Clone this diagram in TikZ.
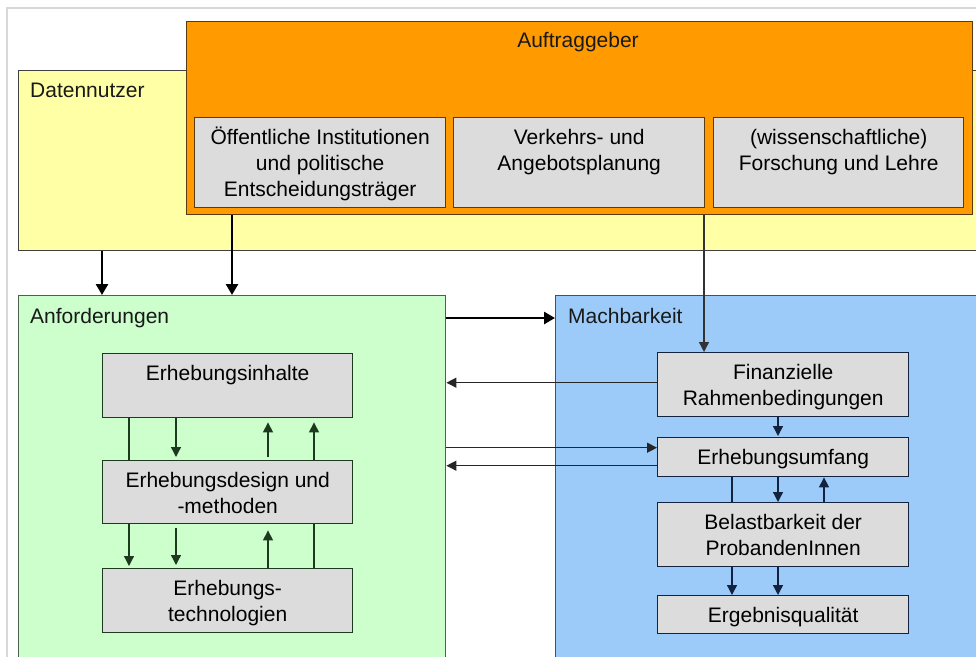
\documentclass[tikz,border=0pt]{standalone}
\usepackage{fontspec}
\setmainfont{Liberation Sans}
\usetikzlibrary{arrows.meta}
\definecolor{yel}{HTML}{FFFFA6}
\definecolor{ora}{HTML}{FF9A00}
\definecolor{grn}{HTML}{CCFFCC}
\definecolor{blu}{HTML}{9CCBFA}
\definecolor{gry}{HTML}{DCDCDC}
\definecolor{gline}{HTML}{1E3A1E}
\definecolor{bline}{HTML}{13233F}
\definecolor{oline}{HTML}{5A3A10}
\definecolor{frame}{HTML}{D8D8D8}
\newcommand{\bxtext}[3]{\parbox[c][#2pt][t]{#1pt}{\centering\rule{0pt}{26.5pt}#3}}
\tikzset{
  bigbox/.style={draw=#1, line width=1.4pt, inner sep=0pt, anchor=north west},
  inbox/.style={draw=#1, fill=gry, line width=1.4pt, inner sep=0pt, anchor=north west},
  titletext/.style={inner sep=0pt, text=black!90},
  thickarrow/.style={line width=2.6pt, -{Triangle[length=11pt,width=12pt]}},
  thinarrow/.style={line width=1.3pt, -{Triangle[length=10pt,width=10pt]}},
  thinline/.style={line width=1.3pt}
}
\begin{document}
\begin{tikzpicture}[x=1pt,y=-1pt, font=\fontsize{21}{26}\selectfont]
\useasboundingbox (0,0) rectangle (976,656);
\clip (0,0) rectangle (976,656);
\fill[white] (0,0) rectangle (976,656);
% screenshot frame
\draw[frame, line width=1.2pt] (7,660) -- (7,8) -- (980,8);

% Datennutzer
\node[bigbox=black!75, fill=yel, minimum width=962pt, minimum height=180pt] (dn) at (18,70) {};
\node[titletext, anchor=base west] (dnt) at (30,97) {Datennutzer};

% Auftraggeber
\node[bigbox=oline, fill=ora, minimum width=786pt, minimum height=193pt] (ag) at (186,21) {};
\node[titletext, anchor=base] (agt) at (578,47) {Auftraggeber};
\node[inbox=oline] (oi) at (194,117) {\bxtext{251}{90}{Öffentliche Institutionen\\und politische\\Entscheidungsträger}};
\node[inbox=oline] (vp) at (453,117) {\bxtext{251}{90}{Verkehrs- und\\Angebotsplanung}};
\node[inbox=oline] (fl) at (713,117) {\bxtext{250}{90}{(wissenschaftliche)\\Forschung und Lehre}};

% Anforderungen
\node[bigbox=gline!80, fill=grn, minimum width=427pt, minimum height=370pt] (anf) at (18,295) {};
\node[titletext, anchor=base west] (anft) at (30,323) {Anforderungen};
\node[inbox=gline] (inh) at (102,353) {\bxtext{250}{64}{Erhebungsinhalte}};
\node[inbox=gline] (des) at (102,460) {\bxtext{250}{63}{Erhebungsdesign und\\-methoden}};
\node[inbox=gline] (tec) at (102,568) {\bxtext{250}{64}{Erhebungs-\\technologien}};

% Machbarkeit
\node[bigbox=bline!80, fill=blu, minimum width=430pt, minimum height=370pt] (mb) at (555,295) {};
\node[titletext, anchor=base west] (mbt) at (568,323) {Machbarkeit};
\node[inbox=bline] (fin) at (657,352) {\bxtext{251}{64}{Finanzielle\\Rahmenbedingungen}};
\node[inbox=bline] (umf) at (657,437) {\bxtext{251}{39}{Erhebungsumfang}};
\node[inbox=bline] (bel) at (657,502) {\bxtext{251}{64}{Belastbarkeit der\\ProbandenInnen}};
\node[inbox=bline] (erg) at (657,595) {\bxtext{251}{38}{Ergebnisqualität}};

% thick arrows
\draw[thickarrow] ([xshift=84pt]dn.south west) -- ([xshift=84pt]anf.north west);
\draw[thickarrow] ([xshift=46pt]ag.south west) -- ([xshift=214pt]anf.north west);
\draw[thickarrow] ([yshift=-23pt]anf.north east) -- ([yshift=-23pt]mb.north west);

% thin arrow Auftraggeber -> Finanzielle
\draw[thinarrow, black!80] ([xshift=518pt]ag.south west) -- ([xshift=47pt]fin.north west);

% horizontal connectors between Machbarkeit and Anforderungen
\draw[thinarrow, black!85] ([yshift=2pt]fin.west) -- ([yshift=2pt]fin.west -| anf.east);
\draw[thinarrow, black!85] ([yshift=9.5pt]umf.west -| anf.east) -- ([yshift=9.5pt]umf.west);
\draw[thinarrow, black!85] ([yshift=-8.5pt]umf.west) -- ([yshift=-8.5pt]umf.west -| anf.east);

% Anforderungen internal
\draw[thinline, gline] ([xshift=27pt]inh.south west) -- ([xshift=27pt]des.north west);
\draw[thinarrow, gline, shorten >=3pt] ([xshift=74pt]inh.south west) -- ([xshift=74pt]des.north west);
\draw[thinarrow, gline, shorten >=4pt, shorten <=3pt] ([xshift=166pt]des.north west) -- ([xshift=166pt]inh.south west);
\draw[thinarrow, gline, shorten >=4pt] ([xshift=212pt]des.north west) -- ([xshift=212pt]inh.south west);
\draw[thinarrow, gline, shorten >=2pt] ([xshift=27pt]des.south west) -- ([xshift=27pt]tec.north west);
\draw[thinarrow, gline, shorten >=3pt, shorten <=4pt] ([xshift=74pt]des.south west) -- ([xshift=74pt]tec.north west);
\draw[thinarrow, gline, shorten >=6pt] ([xshift=166pt]tec.north west) -- ([xshift=166pt]des.south west);
\draw[thinline, gline] ([xshift=212pt]des.south west) -- ([xshift=212pt]tec.north west);

% Machbarkeit internal
\draw[thinarrow, bline, shorten >=1pt] ([xshift=121pt]fin.south west) -- ([xshift=121pt]umf.north west);
\draw[thinline, bline] ([xshift=75pt]umf.south west) -- ([xshift=75pt]bel.north west);
\draw[thinarrow, bline] ([xshift=121pt]umf.south west) -- ([xshift=121pt]bel.north west);
\draw[thinarrow, bline] ([xshift=167pt]bel.north west) -- ([xshift=167pt]umf.south west);
\draw[thinarrow, bline] ([xshift=75pt]bel.south west) -- ([xshift=75pt]erg.north west);
\draw[thinarrow, bline] ([xshift=121pt]bel.south west) -- ([xshift=121pt]erg.north west);
\end{tikzpicture}
\end{document}
